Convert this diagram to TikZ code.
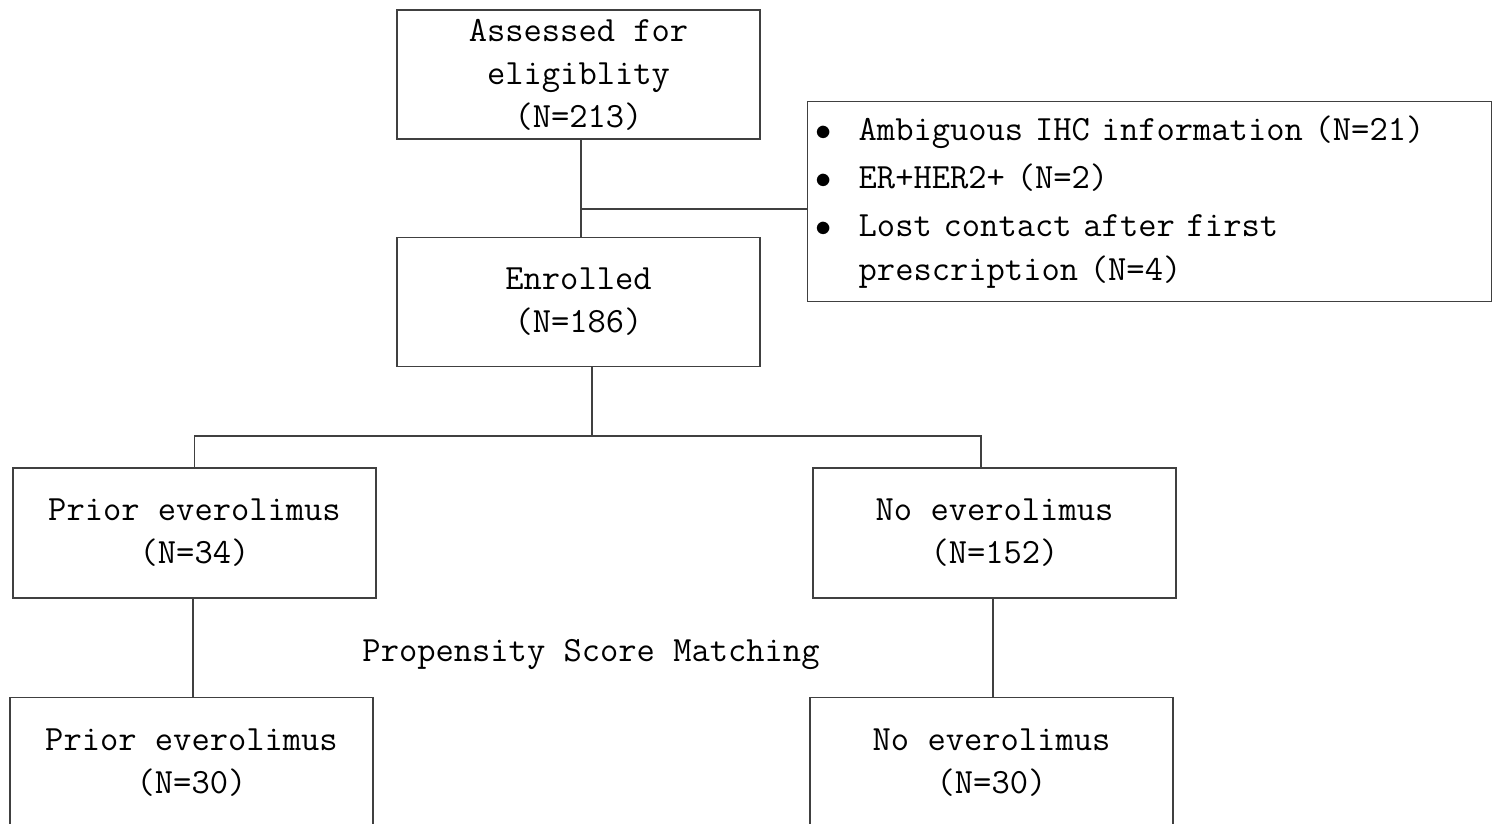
\documentclass[tikz,border=0pt]{standalone}
\usepackage{fontspec}
\usetikzlibrary{positioning}

\begin{document}
\begin{tikzpicture}[x=1pt,y=-1pt,font=\ttfamily\fontsize{35.5}{43}\selectfont,
box/.style={draw=black!75,line width=1.4pt,align=center,inner sep=0pt,minimum width=363pt,minimum height=129pt},
link/.style={draw=black!75,line width=1.4pt}]
\useasboundingbox (0,0) rectangle (1504,823);
\node[box] (assessed) at (578.5,74.5) {Assessed for\\eligiblity\\(N=213)};
\node[box,below=97pt of assessed] (enrolled) {Enrolled\\(N=186)};
\node[box,anchor=north west,align=left,text width=664pt,minimum width=684pt,minimum height=200pt,inner xsep=10pt,inner ysep=0pt,font=\ttfamily\fontsize{35.5}{44}\selectfont] (excluded) at (807,101)
  {\begin{tabular}{@{}l@{}l@{}}
   \makebox[41pt][l]{\hspace{-2pt}\scalebox{1.3}{$\bullet$}} & Ambiguous IHC information (N=21)\\[4pt]
   \makebox[41pt][l]{\hspace{-2pt}\scalebox{1.3}{$\bullet$}} & ER+HER2+ (N=2)\\[4pt]
   \makebox[41pt][l]{\hspace{-2pt}\scalebox{1.3}{$\bullet$}} & Lost contact after first\\
             & prescription (N=4)
   \end{tabular}};
\node[box,minimum height=130pt] (prior) at (194.5,533) {Prior everolimus\\(N=34)};
\node[box,minimum height=130pt] (noevero) at (994.5,533) {No everolimus\\(N=152)};
\node[box,minimum height=130pt,below=98pt of prior.south west,anchor=north west,xshift=-3pt] (priorpsm) {Prior everolimus\\(N=30)};
\node[box,minimum height=130pt,below=98pt of noevero.south west,anchor=north west,xshift=-3pt] (nopsm) {No everolimus\\(N=30)};
\node (psm) at (591,654) {Propensity Score Matching};
% connectors
\coordinate (split) at (581,209);
\coordinate (fork) at (592,436);
\draw[link] (assessed.south -| split) -- (enrolled.north -| split);
\draw[link] (split) -- (excluded.west |- split);
\draw[link] (enrolled.south -| fork) -- (fork);
\draw[link] (prior.north) |- (fork);
\draw[link] (fork) -| ([xshift=-13.5pt]noevero.north);
\draw[link] ([xshift=-1.5pt]prior.south) -- ([xshift=-1.5pt]prior.south |- priorpsm.north);
\draw[link] ([xshift=-1.5pt]noevero.south) -- ([xshift=-1.5pt]noevero.south |- nopsm.north);
\end{tikzpicture}
\end{document}
